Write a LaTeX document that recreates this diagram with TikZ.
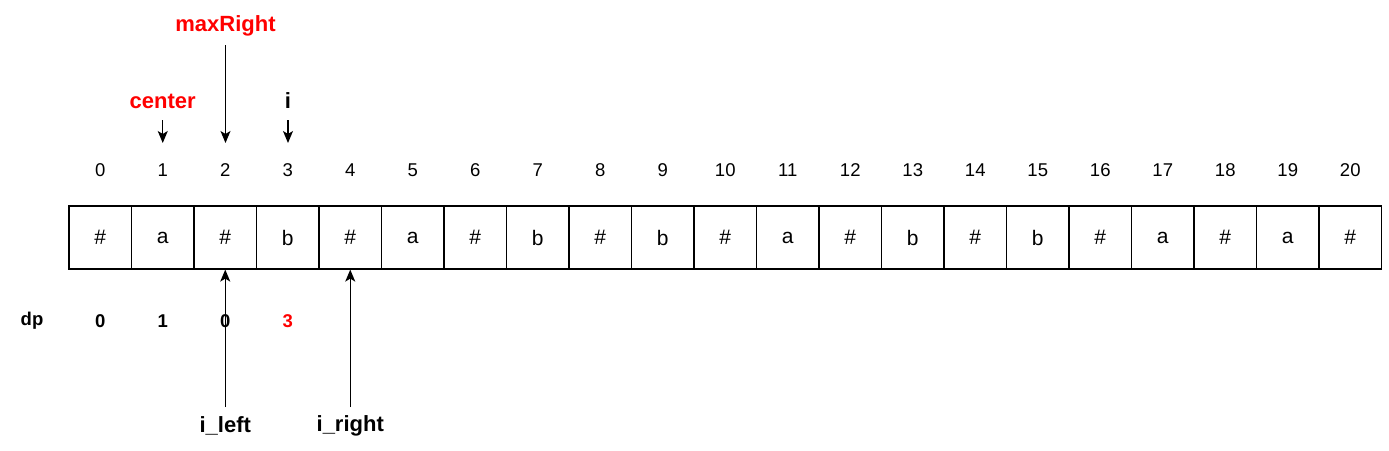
\documentclass[tikz,border=0pt]{standalone}
\usepackage{fontspec}
\setmainfont{Liberation Sans}
\usetikzlibrary{arrows.meta}
\definecolor{lblred}{HTML}{FF0000}
\begin{document}
\begin{tikzpicture}[x=1pt,y=-1pt,
  cellbox/.style={draw,line width=1.2pt,minimum width=62.5pt,minimum height=63pt,inner sep=0pt,anchor=center,font=\fontsize{21}{21}\selectfont},
  idxlbl/.style={font=\fontsize{18.5}{18.5}\selectfont,inner sep=0pt},
  boldlbl/.style={font=\bfseries\fontsize{22}{22}\selectfont,inner sep=0pt},
  dplbl/.style={font=\bfseries\fontsize{18.5}{18.5}\selectfont,inner sep=0pt},
  ptr/.style={line width=1.3pt,-{Stealth[length=12pt,width=10pt,inset=3pt]}}]
\useasboundingbox (0,0) rectangle (1389,450);
\foreach \c [count=\k from 0] in {\#,a,\#,b,\#,a,\#,b,\#,b,\#,a,\#,b,\#,b,\#,a,\#,a,\#}{
  \node[cellbox] (c\k) at ({100.25+62.5*\k},237.5) {\c};
  \node[idxlbl] (n\k) at ({100.25+62.5*\k},170) {\k};
}
% top labels
\node[boldlbl,text=lblred] (maxr) at (225.5,26) {maxRight};
\node[boldlbl,text=lblred] (cent) at (162.75,101) {center};
\node[boldlbl] (ilab) at (288,101) {i};
\coordinate (maxrs) at (225.5,45);
\coordinate (maxre) at (225.5,143);
\coordinate (cents) at (162.75,120);
\coordinate (cente) at (162.75,143);
\coordinate (is) at (288,120);
\coordinate (ie) at (288,143);
\draw[ptr] (maxrs) -- (maxre);
\draw[ptr] (cents) -- (cente);
\draw[ptr] (is) -- (ie);
% dp row
\node[dplbl] (dp) at (32,321) {dp};
\node[dplbl] (d0) at (100.25,321) {0};
\node[dplbl] (d1) at (162.75,321) {1};
\node[dplbl] (d2) at (225.25,321) {0};
\node[dplbl,text=lblred] (d3) at (287.75,321) {3};
% bottom pointers
\node[boldlbl] (ileft) at (225.25,426) {i\_left};
\node[boldlbl] (iright) at (350.25,426) {i\_right};
\coordinate (ils) at (225.25,407);
\coordinate (irs) at (350.25,407);
\draw[ptr] (ils) -- (c2.south);
\draw[ptr] (irs) -- (c4.south);
\end{tikzpicture}
\end{document}
